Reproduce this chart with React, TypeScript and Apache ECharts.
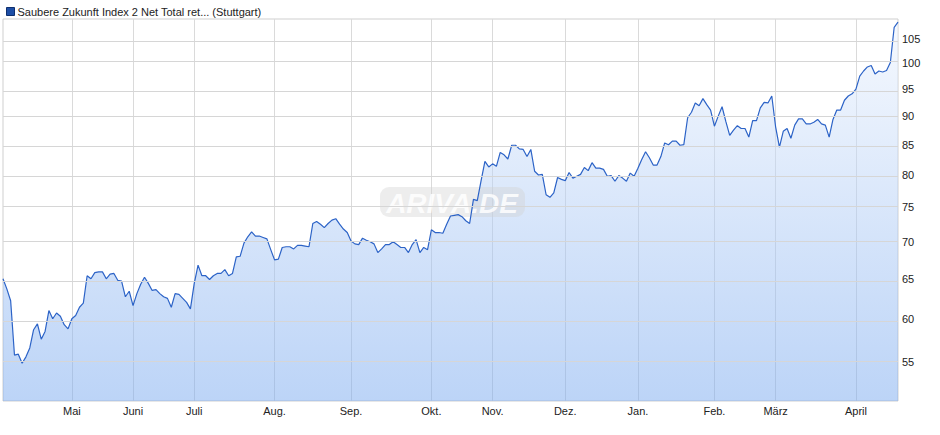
import React, { useEffect, useRef } from "react";
import * as echarts from "echarts";

const seriesName = "Saubere Zukunft Index 2 Net Total ret... (Stuttgart)";
const monthNames = ["Mai", "Juni", "Juli", "Aug.", "Sep.", "Okt.", "Nov.", "Dez.", "Jan.", "Feb.", "März", "April"];
const monthStarts = [18, 34, 50, 71, 91, 112, 128, 147, 166, 186, 202, 223];
const yTicks = [55, 60, 65, 70, 75, 80, 85, 90, 95, 100, 105];
const yMin = 50.9;
const yMax = 109.3;

const values = [
  65.0, 63.7, 62.2, 55.8, 55.9, 54.9, 55.6, 56.6, 58.7, 59.4,
  57.6, 58.5, 61.0, 60.0, 60.7, 60.3, 59.3, 58.8, 60.0, 60.4,
  61.4, 61.9, 65.4, 65.0, 65.8, 65.9, 65.9, 65.0, 65.6, 65.7,
  64.8, 64.7, 62.7, 63.4, 61.6, 63.1, 64.3, 65.2, 64.4, 63.5,
  63.6, 63.1, 62.7, 62.5, 61.4, 63.1, 63.0, 62.5, 62.0, 61.2,
  64.4, 66.8, 65.4, 65.4, 64.9, 65.4, 65.7, 65.7, 66.2, 65.4,
  65.7, 67.9, 68.0, 69.8, 70.7, 71.4, 70.8, 70.8, 70.6, 70.4,
  68.9, 67.5, 67.6, 69.2, 69.3, 69.3, 69.0, 69.5, 69.5, 69.4,
  69.3, 72.6, 72.9, 72.5, 72.0, 72.6, 73.1, 73.3, 72.5, 71.8,
  71.3, 70.1, 69.7, 69.6, 70.5, 70.2, 70.0, 69.7, 68.5, 69.0,
  69.6, 69.6, 70.0, 69.6, 69.2, 69.2, 68.5, 69.6, 70.3, 68.5,
  69.2, 68.9, 71.7, 71.3, 71.3, 71.2, 72.5, 73.7, 73.8, 73.9,
  73.6, 73.0, 72.6, 76.2, 76.0, 79.1, 82.2, 81.3, 81.8, 81.4,
  83.7, 83.3, 82.6, 84.9, 84.9, 84.3, 84.2, 83.0, 84.2, 80.6,
  80.0, 80.1, 76.9, 76.5, 77.2, 79.6, 79.3, 79.1, 80.4, 79.5,
  79.8, 80.1, 81.2, 80.7, 82.0, 81.1, 81.1, 80.9, 79.8, 79.9,
  79.0, 79.9, 79.5, 79.0, 80.3, 79.8, 81.1, 82.5, 83.8, 82.8,
  81.6, 81.6, 83.0, 85.3, 85.0, 85.6, 85.6, 84.9, 85.0, 89.7,
  90.7, 92.4, 91.9, 93.2, 92.1, 91.1, 88.2, 90.0, 91.7, 89.0,
  86.6, 87.5, 88.3, 87.8, 87.8, 86.3, 89.2, 89.2, 91.5, 92.5,
  92.4, 93.7, 88.1, 84.6, 87.3, 87.8, 86.1, 88.4, 89.5, 89.5,
  88.6, 88.6, 88.9, 89.4, 88.6, 88.4, 86.3, 89.4, 91.1, 91.1,
  92.9, 93.7, 94.1, 95.0, 97.5, 98.5, 99.3, 99.6, 97.9, 98.5,
  98.3, 98.6, 100.2, 107.5, 108.6,
];

const FONT = "'Liberation Sans', Arial, sans-serif";

export default function App() {
  const ref = useRef<HTMLDivElement>(null);

  useEffect(() => {
    if (!ref.current) return;
    const chart = echarts.init(ref.current, undefined, { renderer: "svg" });

    const categories = values.map((_, i) => {
      const m = monthStarts.indexOf(i);
      return m >= 0 ? monthNames[m] : String(i);
    });
    const logValues = values.map((v) => Math.log(v));
    const isMonth = (idx: number) => monthStarts.indexOf(idx) >= 0;

    chart.setOption({
      animation: false,
      backgroundColor: "#ffffff",
      textStyle: { fontFamily: FONT },
      legend: {
        show: true,
        data: [seriesName],
        left: 1,
        top: 1,
        icon: "rect",
        itemWidth: 8,
        itemHeight: 8,
        itemGap: 10,
        itemStyle: { color: "#1d4ea6", borderColor: "#0f2f6e", borderWidth: 1 },
        textStyle: { fontSize: 11, color: "#222222", fontFamily: FONT, padding: [0, 0, 0, -2] },
        selectedMode: false,
      },
      graphic: [
        {
          type: "group",
          z: 2,
          children: [
            {
              type: "rect",
              shape: { x: 380, y: 187, width: 145, height: 30, r: 9 },
              style: { fill: "rgba(210,210,210,0.4)" },
              z: 2,
            },
            {
              type: "text",
              x: 452,
              y: 203,
              style: {
                text: "ARIVA.DE",
                fill: "rgba(255,255,255,0.85)",
                font: `italic bold 28px ${FONT}`,
                align: "center",
                verticalAlign: "middle",
              },
              z: 2,
            },
          ],
        },
      ],
      grid: {
        left: 3,
        right: 42,
        top: 19,
        bottom: 34,
        show: true,
        borderColor: "#cfcfcf",
        borderWidth: 1,
        backgroundColor: "transparent",
      },
      xAxis: {
        type: "category",
        data: categories,
        boundaryGap: false,
        axisLine: { show: false },
        axisTick: { show: false },
        axisLabel: {
          interval: (idx: number) => isMonth(idx),
          formatter: (val: string) => val,
          fontSize: 11,
          color: "#222222",
          fontFamily: FONT,
          margin: 4,
        },
        splitLine: {
          show: true,
          interval: (idx: number) => isMonth(idx),
          lineStyle: { color: "#dadada", width: 1 },
        },
      },
      yAxis: {
        type: "value",
        position: "right",
        min: Math.log(yMin),
        max: Math.log(yMax),
        axisLine: { show: false },
        axisTick: { show: false },
        splitLine: { show: false },
        axisLabel: {
          customValues: yTicks.map((t) => Math.log(t)),
          formatter: (v: number) => String(Math.round(Math.exp(v))),
          fontSize: 11,
          color: "#222222",
          fontFamily: FONT,
          margin: 4,
        },
      },
      series: [
        {
          type: "line",
          name: "area",
          data: logValues,
          symbol: "none",
          silent: true,
          z: 1,
          lineStyle: { width: 0, opacity: 0 },
          areaStyle: {
            origin: "start",
            opacity: 1,
            color: new echarts.graphic.LinearGradient(0, 0, 0, 1, [
              { offset: 0, color: "rgba(235,242,253,0.5)" },
              { offset: 1, color: "rgba(121,169,239,0.5)" },
            ]),
          },
          markLine: {
            silent: true,
            symbol: ["none", "none"],
            label: { show: false },
            lineStyle: { color: "#d6d6d6", type: "solid", width: 1 },
            data: yTicks.map((t) => ({ yAxis: Math.log(t) })),
          },
        },
        {
          type: "line",
          name: seriesName,
          data: logValues,
          symbol: "none",
          z: 3,
          itemStyle: { color: "#1d4ea6" },
          lineStyle: { color: "#2c63c7", width: 1.2 },
        },
      ],
    });

    return () => chart.dispose();
  }, []);

  return (
    <div
      ref={ref}
      style={{ position: "absolute", left: 0, top: 0, width: 940, height: 435 }}
    />
  );
}
